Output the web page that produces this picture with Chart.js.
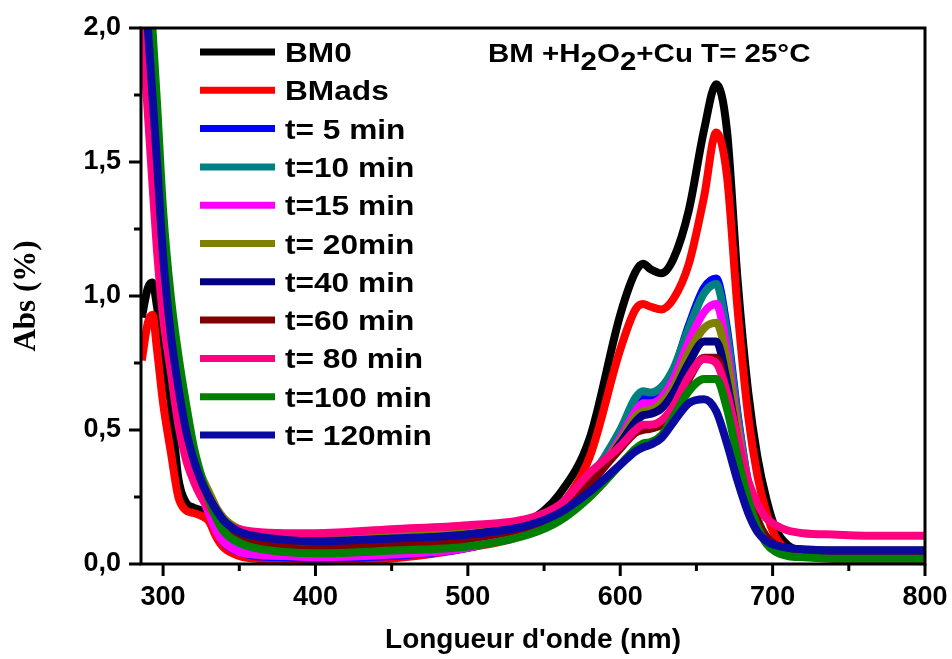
<!DOCTYPE html>
<html>
<head>
<meta charset="utf-8">
<title>Abs BM H2O2 Cu</title>
<script src="https://cdn.jsdelivr.net/npm/chart.js@4.4.0/dist/chart.umd.min.js"></script>
<style>
  html, body { margin: 0; padding: 0; background: #fff; }
  #wrap { width: 952px; height: 659px; }
</style>
</head>
<body>
<div id="wrap"><canvas id="absChart"></canvas></div>
<script>
// Longueurs d'onde (nm) communes a toutes les courbes
const wavelengths = [286, 290, 293, 296, 300, 305, 310, 315, 320, 325, 330, 335, 340, 350, 360, 380, 400, 450, 500, 540,
  560, 580, 600, 610, 615, 620, 627, 635, 645, 655, 663, 670, 677, 684, 690, 696, 702, 710, 720, 740, 770, 800];

const seriesLabels = ['BM0', 'BMads', 't= 5 min', 't=10 min', 't=15 min', 't= 20min', 't=40 min', 't=60 min', 't= 80 min', 't=100 min', 't= 120min'];
const seriesColors = ['#000000', '#ff0000', '#0000ff', '#008080', '#ff00ff', '#808000', '#000080', '#800000', '#ff0080', '#008000', '#0a0aa0'];

const absBM0 = [0.92, 1.03, 1.05, 0.96, 0.8, 0.6, 0.32, 0.23, 0.21, 0.2, 0.17, 0.11, 0.07, 0.04, 0.03, 0.02, 0.02, 0.04, 0.08, 0.16,
  0.26, 0.47, 0.93, 1.09, 1.12, 1.1, 1.085, 1.14, 1.32, 1.62, 1.79, 1.62, 1.06, 0.64, 0.4, 0.24, 0.13, 0.07, 0.045, 0.035, 0.03, 0.03];
const absBMads = [0.76, 0.9, 0.93, 0.8, 0.6, 0.42, 0.25, 0.2, 0.19, 0.18, 0.16, 0.1, 0.06, 0.03, 0.02, 0.01, 0.01, 0.02, 0.06, 0.12,
  0.21, 0.4, 0.8, 0.95, 0.97, 0.96, 0.95, 0.99, 1.12, 1.37, 1.61, 1.45, 0.95, 0.55, 0.33, 0.19, 0.1, 0.05, 0.03, 0.02, 0.015, 0.01];
const abs5 = [2.35, 2.0, 1.75, 1.5, 1.15, 0.85, 0.64, 0.48, 0.36, 0.27, 0.2, 0.13, 0.08, 0.045, 0.03, 0.025, 0.02, 0.03, 0.06, 0.13,
  0.2, 0.31, 0.48, 0.59, 0.62, 0.62, 0.64, 0.72, 0.89, 1.03, 1.065, 0.88, 0.56, 0.3, 0.17, 0.09, 0.055, 0.04, 0.03, 0.03, 0.025, 0.025];
const abs10 = [2.35, 2.0, 1.75, 1.5, 1.15, 0.86, 0.65, 0.49, 0.37, 0.28, 0.21, 0.14, 0.09, 0.05, 0.035, 0.03, 0.03, 0.04, 0.065, 0.14,
  0.21, 0.32, 0.5, 0.62, 0.645, 0.64, 0.66, 0.73, 0.88, 1.01, 1.045, 0.86, 0.55, 0.3, 0.17, 0.09, 0.055, 0.04, 0.035, 0.03, 0.03, 0.03];
const abs15 = [2.35, 2.0, 1.75, 1.5, 1.15, 0.85, 0.64, 0.48, 0.35, 0.26, 0.19, 0.12, 0.08, 0.045, 0.035, 0.03, 0.025, 0.035, 0.06, 0.13,
  0.2, 0.3, 0.47, 0.57, 0.6, 0.6, 0.62, 0.69, 0.83, 0.94, 0.97, 0.8, 0.52, 0.29, 0.16, 0.09, 0.055, 0.04, 0.03, 0.03, 0.025, 0.025];
const abs20 = [2.35, 2.02, 1.78, 1.52, 1.18, 0.88, 0.68, 0.52, 0.41, 0.33, 0.27, 0.21, 0.17, 0.13, 0.115, 0.11, 0.105, 0.115, 0.13, 0.16,
  0.2, 0.31, 0.46, 0.55, 0.57, 0.575, 0.6, 0.66, 0.79, 0.88, 0.9, 0.76, 0.5, 0.29, 0.17, 0.1, 0.07, 0.055, 0.05, 0.05, 0.05, 0.05];
const abs40 = [2.35, 2.0, 1.75, 1.5, 1.15, 0.86, 0.66, 0.5, 0.39, 0.31, 0.25, 0.2, 0.16, 0.12, 0.1, 0.09, 0.085, 0.09, 0.11, 0.15,
  0.2, 0.3, 0.45, 0.53, 0.555, 0.56, 0.58, 0.64, 0.75, 0.83, 0.83, 0.68, 0.46, 0.28, 0.16, 0.1, 0.07, 0.055, 0.05, 0.05, 0.05, 0.05];
const abs60 = [2.35, 2.0, 1.76, 1.51, 1.16, 0.87, 0.66, 0.5, 0.38, 0.3, 0.23, 0.18, 0.14, 0.095, 0.08, 0.07, 0.065, 0.075, 0.095, 0.14,
  0.19, 0.3, 0.43, 0.49, 0.5, 0.505, 0.52, 0.58, 0.69, 0.77, 0.77, 0.63, 0.44, 0.27, 0.16, 0.1, 0.07, 0.05, 0.045, 0.04, 0.04, 0.04];
const abs80 = [2.02, 1.68, 1.42, 1.17, 0.92, 0.72, 0.52, 0.39, 0.31, 0.25, 0.21, 0.175, 0.15, 0.13, 0.12, 0.115, 0.115, 0.13, 0.145, 0.17,
  0.22, 0.34, 0.44, 0.5, 0.52, 0.52, 0.535, 0.59, 0.7, 0.765, 0.75, 0.64, 0.47, 0.31, 0.225, 0.17, 0.145, 0.125, 0.115, 0.11, 0.105, 0.105];
const abs100 = [2.6, 2.3, 2.0, 1.72, 1.32, 1.0, 0.78, 0.6, 0.44, 0.33, 0.24, 0.17, 0.12, 0.08, 0.06, 0.045, 0.04, 0.05, 0.065, 0.11,
  0.16, 0.25, 0.37, 0.43, 0.45, 0.455, 0.48, 0.55, 0.645, 0.69, 0.69, 0.58, 0.4, 0.24, 0.14, 0.075, 0.045, 0.03, 0.025, 0.02, 0.02, 0.02];
const abs120 = [2.35, 2.0, 1.75, 1.5, 1.15, 0.86, 0.66, 0.5, 0.39, 0.31, 0.25, 0.2, 0.16, 0.12, 0.105, 0.09, 0.085, 0.095, 0.11, 0.145,
  0.19, 0.27, 0.37, 0.42, 0.435, 0.445, 0.47, 0.53, 0.6, 0.615, 0.57, 0.45, 0.31, 0.19, 0.12, 0.085, 0.07, 0.06, 0.055, 0.05, 0.05, 0.05];

const allSeries = [absBM0, absBMads, abs5, abs10, abs15, abs20, abs40, abs60, abs80, abs100, abs120];

const xMajorTicks = [300, 400, 500, 600, 700, 800];
const xMinorTicks = [350, 450, 550, 650, 750];
const yMajorTicks = [0, 0.5, 1.0, 1.5, 2.0];
const yMinorTicks = [0.25, 0.75, 1.25, 1.75];

const sansFont = '"Liberation Sans", Arial, Helvetica, sans-serif';
const serifFont = '"Liberation Serif", "Times New Roman", serif';

// cadre + graduations (majeures et mineures)
const framePlugin = {
    id: 'frame',
    afterDatasetsDraw(chart) {
        const { ctx, chartArea: a, scales } = chart;
        ctx.save();
        ctx.strokeStyle = '#000';
        ctx.lineWidth = 3;
        ctx.strokeRect(a.left, a.top, a.right - a.left, a.bottom - a.top);
        ctx.beginPath();
        const tick = (vals, len) => {
            vals.forEach(v => {
                const px = scales.x.getPixelForValue(v);
                ctx.moveTo(px, a.bottom);
                ctx.lineTo(px, a.bottom + len);
            });
        };
        tick(xMajorTicks, 12);
        tick(xMinorTicks, 7);
        const ytick = (vals, len) => {
            vals.forEach(v => {
                const py = scales.y.getPixelForValue(v);
                ctx.moveTo(a.left, py);
                ctx.lineTo(a.left - len, py);
            });
        };
        ytick(yMajorTicks, 12);
        ytick(yMinorTicks, 7);
        ctx.stroke();
        ctx.restore();
    }
};

// legende dans la zone du graphique
const legendPlugin = {
    id: 'insideLegend',
    afterDatasetsDraw(chart) {
        const ctx = chart.ctx;
        ctx.save();
        chart.data.datasets.forEach((ds, i) => {
            const y = 52 + i * 38.3;
            ctx.strokeStyle = ds.borderColor;
            ctx.lineWidth = 7;
            ctx.lineCap = 'butt';
            ctx.beginPath();
            ctx.moveTo(200, y);
            ctx.lineTo(275, y);
            ctx.stroke();
            ctx.save();
            ctx.translate(285, y + 10);
            ctx.scale(1.13, 1);
            ctx.fillStyle = '#000';
            ctx.font = 'bold 28px ' + sansFont;
            ctx.textBaseline = 'alphabetic';
            ctx.fillText(ds.label, 0, 0);
            ctx.restore();
        });
        ctx.restore();
    }
};

// titre avec indices
const titlePlugin = {
    id: 'subTitle',
    afterDatasetsDraw(chart) {
        const ctx = chart.ctx;
        const parts = [['BM +H', 0], ['2', 8], ['O', 0], ['2', 8], ['+Cu T= 25\u00b0C', 0]];
        ctx.save();
        ctx.translate(488, 62);
        ctx.scale(1.18, 1);
        ctx.fillStyle = '#000';
        ctx.font = 'bold 25px ' + sansFont;
        ctx.textBaseline = 'alphabetic';
        let x = 0;
        parts.forEach(([txt, dy]) => {
            ctx.fillText(txt, x, dy);
            x += ctx.measureText(txt).width;
        });
        ctx.restore();
    }
};

const datasets = allSeries.map((vals, i) => ({
    label: seriesLabels[i],
    data: wavelengths.map((w, k) => ({ x: w, y: vals[k] })),
    borderColor: seriesColors[i],
    backgroundColor: seriesColors[i],
    borderWidth: 8,
    pointRadius: 0,
    fill: false,
    cubicInterpolationMode: 'monotone',
    clip: { left: 0, top: 0, right: 0, bottom: 5 },
    order: allSeries.length - i
}));

const ctx = document.getElementById('absChart').getContext('2d');
new Chart(ctx, {
    type: 'line',
    data: { datasets: datasets },
    options: {
        responsive: true,
        maintainAspectRatio: false,
        animation: false,
        layout: { padding: { left: 0, top: 28, right: 27, bottom: 0 } },
        plugins: {
            legend: { display: false },
            tooltip: { enabled: false },
            title: { display: false }
        },
        scales: {
            x: {
                type: 'linear',
                min: 285.5,
                max: 800,
                afterBuildTicks: s => { s.ticks = xMajorTicks.map(v => ({ value: v })); },
                afterFit: s => { s.height = 95; s.paddingLeft = 0; s.paddingRight = 0; },
                grid: { drawOnChartArea: false, drawTicks: true, tickLength: 11, tickColor: 'rgba(0,0,0,0)' },
                border: { display: false },
                ticks: {
                    autoSkip: false, maxRotation: 0, padding: 6, color: '#000',
                    font: { family: sansFont, size: 27, weight: 'bold' },
                    callback: v => String(v)
                },
                title: {
                    display: true, text: "Longueur d'onde (nm)", color: '#000',
                    font: { family: sansFont, size: 28, weight: 'bold' },
                    padding: { top: 0, bottom: 2 }
                }
            },
            y: {
                type: 'linear',
                min: 0,
                max: 2,
                afterBuildTicks: s => { s.ticks = yMajorTicks.map(v => ({ value: v })); },
                afterFit: s => { s.width = 141; s.paddingTop = 0; s.paddingBottom = 0; },
                grid: { drawOnChartArea: false, drawTicks: true, tickLength: 11, tickColor: 'rgba(0,0,0,0)' },
                border: { display: false },
                ticks: {
                    autoSkip: false, padding: 9, color: '#000',
                    font: { family: sansFont, size: 27, weight: 'bold' },
                    callback: v => v.toFixed(1).replace('.', ',')
                },
                title: {
                    display: true, text: 'Abs (%)', color: '#000',
                    font: { family: serifFont, size: 31, weight: 'bold' },
                    padding: { top: 8, bottom: 0 }
                }
            }
        }
    },
    plugins: [framePlugin, legendPlugin, titlePlugin]
});
</script>
</body>
</html>
